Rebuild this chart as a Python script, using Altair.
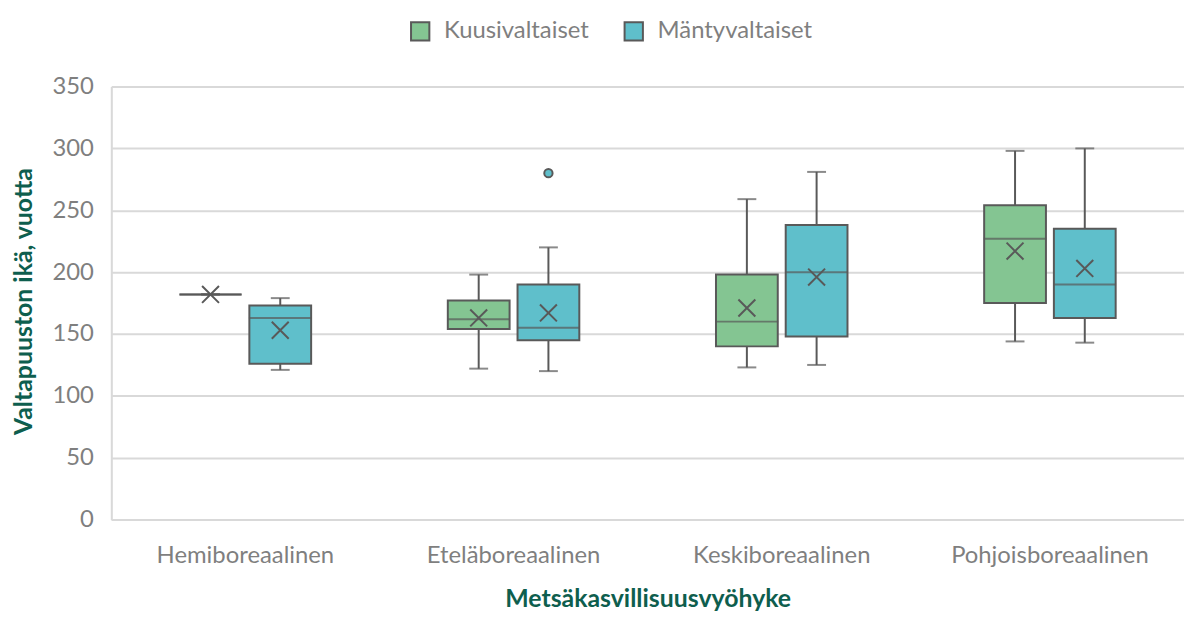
import altair as alt
import pandas as pd

categories = ["Hemiboreaalinen", "Eteläboreaalinen", "Keskiboreaalinen", "Pohjoisboreaalinen"]
series = ["Kuusivaltaiset", "Mäntyvaltaiset"]

# per category: [Kuusivaltaiset, Mäntyvaltaiset]
whisker_low = [[182, 121], [122, 120], [123, 125], [144, 143]]
q1 = [[182, 126], [154, 145], [140, 148], [175, 163]]
median = [[182, 163], [162, 155], [160, 200], [227, 190]]
q3 = [[182, 173], [177, 190], [198, 238], [254, 235]]
whisker_high = [[182, 179], [198, 220], [259, 281], [298, 300]]
mean = [[182, 153], [163, 167], [171, 196], [217, 203]]

outlier_cat = ["Eteläboreaalinen"]
outlier_series = ["Mäntyvaltaiset"]
outlier_val = [280]

colors = ["#84C592", "#5FBFCB"]

rows = []
for i, c in enumerate(categories):
    for j, s in enumerate(series):
        rows.append(dict(cat=c, series=s, lo=whisker_low[i][j], q1=q1[i][j],
                         med=median[i][j], q3=q3[i][j], hi=whisker_high[i][j],
                         mean=mean[i][j]))
df = pd.DataFrame(rows)
odf = pd.DataFrame(dict(cat=outlier_cat, series=outlier_series, val=outlier_val))

FONT = "Lato"
STROKE = "#595959"
LBL = "#7F7F7F"
TTL = "#0E5E4E"

x_enc = alt.X("cat:N", sort=categories, title="Metsäkasvillisuusvyöhyke",
              scale=alt.Scale(paddingInner=0, paddingOuter=0),
              axis=alt.Axis(labelAngle=0, ticks=False, labelPadding=24, labelLimit=400,
                            labelFontSize=24, labelColor=LBL, labelFont=FONT,
                            domainColor="#D9D9D9", domainWidth=2,
                            titleFont=FONT, titleFontSize=25, titleFontWeight="bold",
                            titleColor=TTL, titleX=540, titleY=80,
                            titleBaseline="middle", titleAnchor="middle", titleAlign="center"))
xo_enc = alt.XOffset("series:N", sort=series,
                     scale=alt.Scale(paddingInner=0.114, paddingOuter=0.98))

base = alt.Chart(df).encode(x=x_enc, xOffset=xo_enc)

y_scale = alt.Scale(domain=[0, 350], nice=False)
y_axis = alt.Axis(values=[0, 50, 100, 150, 200, 250, 300, 350], ticks=False,
                  labelPadding=18, labelFontSize=24, labelColor=LBL, labelFont=FONT,
                  gridColor="#D9D9D9", gridWidth=2, domainColor="#D9D9D9", domainWidth=2,
                  title="Valtapuuston ikä, vuotta", titleFont=FONT, titleFontSize=25,
                  titleFontWeight="bold", titleColor=TTL, titleAngle=-90,
                  titleX=-88, titleY=216, titleAlign="center", titleBaseline="middle")

whisker = base.mark_rule(color=STROKE, strokeWidth=2).encode(
    y=alt.Y("lo:Q", scale=y_scale, axis=y_axis), y2="hi:Q")

caps_lo = base.mark_tick(color=STROKE, size=19, thickness=2).encode(y="lo:Q")
caps_hi = base.mark_tick(color=STROKE, size=19, thickness=2).encode(y="hi:Q")

box = base.mark_bar(stroke=STROKE, strokeWidth=2, opacity=1).encode(
    y="q1:Q", y2="q3:Q",
    fill=alt.Fill("series:N", sort=series,
                  scale=alt.Scale(domain=series, range=colors),
                  legend=alt.Legend(title=None, orient="none", direction="horizontal",
                                    legendX=299, legendY=-68, symbolType="square",
                                    symbolSize=340, symbolStrokeColor=STROKE,
                                    symbolStrokeWidth=2, labelFont=FONT, labelFontSize=24,
                                    labelColor=LBL, labelOffset=12, labelLimit=400,
                                    columnPadding=31, symbolOpacity=1)))

med = base.mark_tick(color=STROKE, size=63, thickness=2).encode(y="med:Q")

mean_mark = base.mark_point(shape="M-1,-1L1,1M-1,1L1,-1", size=290, filled=False,
                            color=STROKE, strokeWidth=2, opacity=1).encode(y="mean:Q")

outl = alt.Chart(odf).mark_point(shape="circle", size=70, filled=True, stroke=STROKE,
                                 strokeWidth=2, opacity=1).encode(
    x=alt.X("cat:N", sort=categories),
    xOffset=alt.XOffset("series:N", sort=series),
    y="val:Q",
    fill=alt.Fill("series:N", sort=series, scale=alt.Scale(domain=series, range=colors),
                  legend=None))

chart = alt.layer(whisker, caps_lo, caps_hi, box, med, mean_mark, outl).properties(
    width=1080, height=436,
    autosize=alt.AutoSizeParams(type="none"),
    padding={"left": 104, "top": 77, "right": 0, "bottom": 96},
).configure_view(stroke=None).configure(background="white")

chart.save("out.html", embed_options={"renderer": "svg", "actions": False})
